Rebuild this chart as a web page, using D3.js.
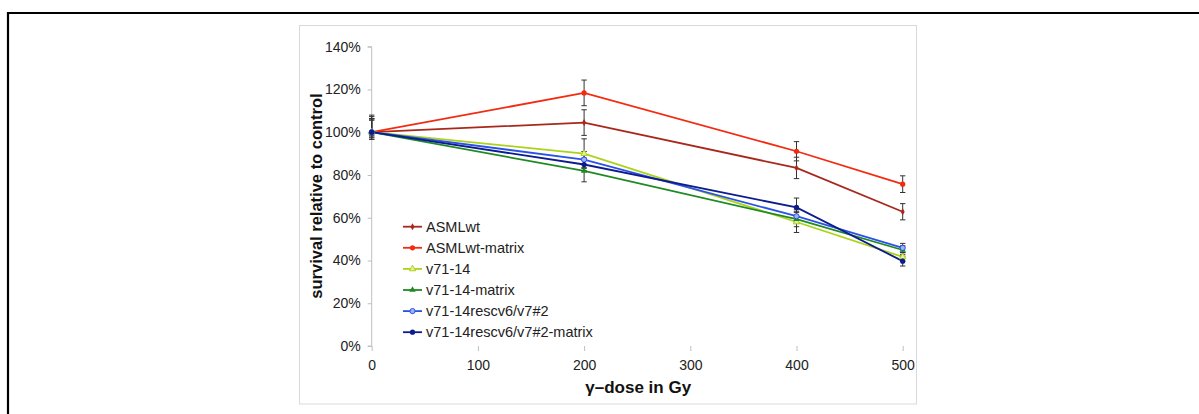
<!DOCTYPE html>
<html>
<head>
<meta charset="utf-8">
<script src="https://cdn.jsdelivr.net/npm/d3@7"></script>
<style>
  body { margin: 0; background: #fff; }
  svg { display: block; font-family: Arial, "Liberation Sans", sans-serif; }
</style>
</head>
<body>
<svg id="chart" width="1199" height="414"></svg>
<script>
// doses on x axis
const doses = [0, 200, 400, 500];
const seriesNames = ["ASMLwt", "ASMLwt-matrix", "v71-14", "v71-14-matrix", "v71-14rescv6/v7#2", "v71-14rescv6/v7#2-matrix"];
const seriesColors = ["#a8281c", "#f32b10", "#add21a", "#1f8a22", "#2a52e6", "#0c1c8e"];
const seriesMarkers = ["diamond", "circle", "triangleOpen", "triangle", "circleLight", "circle"];

// survival values (fraction of control)
const valASMLwt       = [1.00, 1.045, 0.833, 0.628];
const valASMLwtMatrix = [1.00, 1.184, 0.911, 0.757];
const valV71          = [1.00, 0.900, 0.580, 0.417];
const valV71Matrix    = [1.00, 0.819, 0.593, 0.449];
const valResc         = [1.00, 0.872, 0.607, 0.459];
const valRescMatrix   = [1.00, 0.849, 0.648, 0.397];

// error bars, upper and lower
const errUpASMLwt       = [0.080, 0.060, 0.050, 0.038];
const errDnASMLwt       = [0.033, 0.060, 0.050, 0.038];
const errUpASMLwtMatrix = [0.073, 0.060, 0.045, 0.039];
const errDnASMLwtMatrix = [0.023, 0.060, 0.045, 0.039];
const errUpV71          = [0.064, 0.069, 0.045, 0.020];
const errDnV71          = [0.013, 0.069, 0.049, 0.020];
const errUpV71Matrix    = [0.057, 0.051, 0.035, 0.020];
const errDnV71Matrix    = [0.013, 0.051, 0.035, 0.020];
const errUpResc         = [0.057, 0.038, 0.030, 0.021];
const errDnResc         = [0.023, 0.038, 0.030, 0.021];
const errUpRescMatrix   = [0.064, 0.030, 0.044, 0.023];
const errDnRescMatrix   = [0.033, 0.030, 0.044, 0.023];

const yTicks = [0, 0.2, 0.4, 0.6, 0.8, 1.0, 1.2, 1.4];
const xTicks = [0, 100, 200, 300, 400, 500];

const allVals = [valASMLwt, valASMLwtMatrix, valV71, valV71Matrix, valResc, valRescMatrix];
const allUp = [errUpASMLwt, errUpASMLwtMatrix, errUpV71, errUpV71Matrix, errUpResc, errUpRescMatrix];
const allDn = [errDnASMLwt, errDnASMLwtMatrix, errDnV71, errDnV71Matrix, errDnResc, errDnRescMatrix];

const series = seriesNames.map((n, i) => ({
  name: n, color: seriesColors[i], marker: seriesMarkers[i],
  pts: doses.map((d, j) => ({ x: d, y: allVals[i][j], up: allUp[i][j], dn: allDn[i][j] }))
}));

const svg = d3.select("#chart");

// outer frame (cropped figure border)
svg.append("path").attr("d", "M8,414 L8,13 L1199,13")
  .attr("fill", "none").attr("stroke", "#000").attr("stroke-width", 2.2);

// chart area box
svg.append("rect").attr("x", 299.5).attr("y", 25.5).attr("width", 617).attr("height", 378.5)
  .attr("fill", "#fff").attr("stroke", "#d9d9d9").attr("stroke-width", 1);

const x = d3.scaleLinear().domain([0, 500]).range([371.7, 902.7]);
const y = d3.scaleLinear().domain([0, 1.4]).range([346, 46.7]);

const gy = svg.append("g").attr("transform", `translate(${x(0)},0)`)
  .call(d3.axisLeft(y).tickValues(yTicks).tickFormat(d3.format(".0%")).tickSize(4).tickPadding(7));
const gx = svg.append("g").attr("transform", `translate(0,${y(0)})`)
  .call(d3.axisBottom(x).tickValues(xTicks).tickSize(5).tickPadding(9));
[gy, gx].forEach(g => {
  g.select(".domain").attr("stroke", "#bfbfbf");
  g.selectAll(".tick line").attr("stroke", "#bfbfbf");
  g.selectAll(".tick text").attr("fill", "#222").style("font-size", "14px").style("font-family", "Arial, 'Liberation Sans', sans-serif");
});
gy.select(".domain").attr("d", `M-4,${y(1.4)}H0V${y(0)}H-4`);
gx.select(".domain").attr("d", `M${x(0)},${y(0)}H${x(500)}`);

// axis titles
svg.append("text").attr("transform", `translate(322,196) rotate(-90)`)
  .attr("text-anchor", "middle").style("font-size", "16.5px").style("font-weight", "bold").attr("fill", "#111")
  .text("survival relative to control");
svg.append("text").attr("x", x(250) + 1).attr("y", 393)
  .attr("text-anchor", "middle").style("font-size", "17px").style("font-weight", "bold").attr("fill", "#111")
  .text("γ–dose in Gy");

const line = d3.line().x(d => x(d.x)).y(d => y(d.y));

function drawMarker(g, s, cx, cy) {
  const c = s.color;
  if (s.marker === "diamond") {
    g.append("path").attr("d", d3.symbol(d3.symbolDiamond, 14)()).attr("transform", `translate(${cx},${cy})`).attr("fill", c);
  } else if (s.marker === "circle") {
    g.append("circle").attr("cx", cx).attr("cy", cy).attr("r", 2.6).attr("fill", c);
  } else if (s.marker === "circleLight") {
    g.append("circle").attr("cx", cx).attr("cy", cy).attr("r", 2.6).attr("fill", "#9fb0f5").attr("stroke", c).attr("stroke-width", 1);
  } else if (s.marker === "triangleOpen") {
    g.append("path").attr("d", d3.symbol(d3.symbolTriangle, 18)()).attr("transform", `translate(${cx},${cy})`)
      .attr("fill", "#e3f09a").attr("stroke", c).attr("stroke-width", 1);
  } else {
    g.append("path").attr("d", d3.symbol(d3.symbolTriangle, 18)()).attr("transform", `translate(${cx},${cy})`).attr("fill", c);
  }
}

// lines
series.forEach(s => {
  svg.append("path").datum(s.pts).attr("d", line).attr("fill", "none")
    .attr("stroke", s.color).attr("stroke-width", 1.8);
});

// error bars
const eb = svg.append("g").attr("stroke", "#333").attr("stroke-width", 1).attr("fill", "none");
series.forEach(s => {
  s.pts.forEach(p => {
    const px = x(p.x), yt = y(p.y + p.up), yb = y(p.y - p.dn);
    eb.append("line").attr("x1", px).attr("x2", px).attr("y1", yt).attr("y2", yb);
    eb.append("line").attr("x1", px - 2.7).attr("x2", px + 2.7).attr("y1", yt).attr("y2", yt);
    eb.append("line").attr("x1", px - 2.7).attr("x2", px + 2.7).attr("y1", yb).attr("y2", yb);
  });
});

// markers
const mk = svg.append("g");
series.forEach(s => s.pts.forEach(p => drawMarker(mk, s, x(p.x), y(p.y))));

// legend
const lg = svg.append("g");
series.forEach((s, i) => {
  const ly = 226.7 + i * 21.1;
  lg.append("line").attr("x1", 403).attr("x2", 422).attr("y1", ly).attr("y2", ly)
    .attr("stroke", s.color).attr("stroke-width", 1.8);
  drawMarker(lg, s, 412.5, ly);
  lg.append("text").attr("x", 426).attr("y", ly + 5).style("font-size", "14.5px").attr("fill", "#222").text(s.name);
});
</script>
</body>
</html>
